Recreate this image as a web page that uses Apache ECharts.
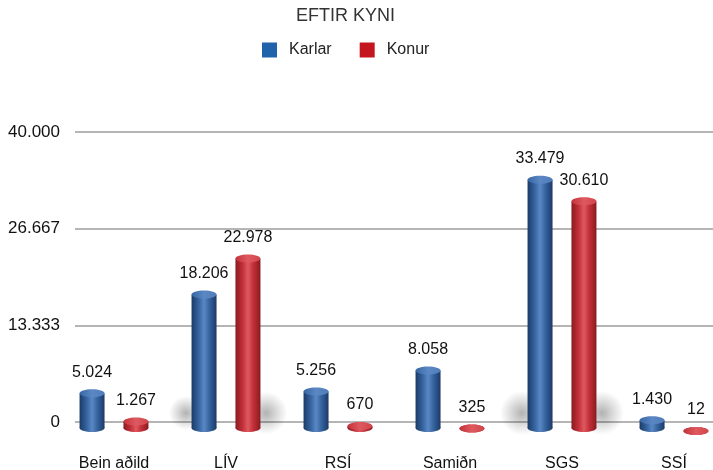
<!DOCTYPE html>
<html>
<head>
<meta charset="utf-8">
<script src="https://cdn.jsdelivr.net/npm/echarts@6/dist/echarts.min.js"></script>
<style>
  html, body { margin: 0; padding: 0; background: #fff; }
  #chart { width: 713px; height: 470px; }
</style>
</head>
<body>
<div id="chart"></div>
<script>
// data
var categories = ['Bein aðild', 'LÍV', 'RSÍ', 'Samiðn', 'SGS', 'SSÍ'];
var karlar = [5024, 18206, 5256, 8058, 33479, 1430];
var konur = [1267, 22978, 670, 325, 30610, 12];
var yTicks = [0, 13333, 26667, 40000];

function fmt(v) {
    // 40000 -> 40.000
    return String(Math.round(v)).replace(/\B(?=(\d{3})+(?!\d))/g, '.');
}

function bodyGrad(c) {
    return new echarts.graphic.LinearGradient(0, 0, 1, 0, [
        {offset: 0, color: c.dark},
        {offset: 0.3, color: c.mid},
        {offset: 0.5, color: c.light},
        {offset: 0.7, color: c.mid},
        {offset: 1, color: c.dark}
    ]);
}

var blue = {dark: '#1c3a66', mid: '#3766a3', light: '#5b88c3', cap: '#4f7dbb'};
var red = {dark: '#8a1a1f', mid: '#c5313a', light: '#de5a60', cap: '#d1444b'};

// draws a cylinder per data item
function cylinder(off, c) {
    return function (params, api) {
        var cat = api.value(0), val = api.value(1);
        var band = api.size([1, 0])[0];
        var p = api.coord([cat, val]);
        var base = api.coord([cat, 0]);
        var cx = p[0] + band * off;
        var w = 25, rx = w / 2, ry = 4;
        var visTop = p[1] + (p[1] - base[1]) * 0.035 + 5;
        var bottom = base[1] + 10;
        var capY = visTop + ry;
        var botY = bottom - ry;
        if (botY < capY) botY = capY;
        var h = bottom - visTop;
        var kids = [];
        if (h > 100) {
            // soft floor shadow behind tall bars
            kids.push({
                type: 'ellipse', z2: -5, silent: true,
                shape: {cx: cx + (off < 0 ? -18 : 18), cy: base[1] - 9, rx: rx + Math.min(h * 0.2, 42), ry: Math.min(h * 0.12, 22)},
                style: {fill: new echarts.graphic.RadialGradient(0.5, 0.5, 0.5, [
                    {offset: 0, color: 'rgba(0,0,0,0.30)'},
                    {offset: 0.55, color: 'rgba(0,0,0,0.13)'},
                    {offset: 1, color: 'rgba(0,0,0,0)'}
                ])}
            });
        }
        kids.push({
            type: 'ellipse',
            shape: {cx: cx, cy: botY, rx: rx, ry: ry},
            style: {fill: bodyGrad(c)}
        });
        kids.push({
            type: 'rect',
            shape: {x: cx - rx, y: capY, width: w, height: botY - capY},
            style: {fill: bodyGrad(c)}
        });
        kids.push({
            type: 'ellipse',
            shape: {cx: cx, cy: capY, rx: rx, ry: ry},
            style: {fill: new echarts.graphic.LinearGradient(0, 0, 1, 0, [
                {offset: 0, color: c.mid},
                {offset: 0.5, color: c.light},
                {offset: 1, color: c.cap}
            ])}
        });
        kids.push({
            type: 'text',
            style: {
                x: cx, y: visTop - 9,
                text: fmt(val),
                align: 'center', verticalAlign: 'bottom',
                fill: '#111', fontSize: 16, fontFamily: 'Liberation Sans, Arial, sans-serif'
            }
        });
        return {type: 'group', children: kids};
    };
}

var myChart = echarts.init(document.getElementById('chart'));

var option = {
    animation: false,
    title: {
        text: 'EFTIR KYNI',
        left: 291, top: 2,
        textStyle: {fontSize: 18, fontWeight: 'normal', color: '#333', fontFamily: 'Liberation Sans, Arial, sans-serif'}
    },
    legend: {
        data: ['Karlar', 'Konur'],
        left: 262, top: 42,
        padding: 0,
        itemWidth: 15, itemHeight: 15,
        itemGap: 28,
        icon: 'rect',
        textStyle: {fontSize: 16, color: '#222', padding: [0, 0, 0, 7], fontFamily: 'Liberation Sans, Arial, sans-serif'}
    },
    grid: [
        {left: 75, right: 0, top: 132, bottom: 48, outerBoundsMode: 'none'},
        {left: 58, width: 672, top: 132, bottom: 48, outerBoundsMode: 'none'}
    ],
    xAxis: [
        {gridIndex: 0, type: 'value', show: false},
        {
            gridIndex: 1, type: 'category', data: categories,
            axisLine: {show: false}, axisTick: {show: false},
            axisLabel: {margin: 34, fontSize: 16, color: '#111', fontFamily: 'Liberation Sans, Arial, sans-serif'}
        }
    ],
    yAxis: [
        {
            gridIndex: 0, type: 'value', min: 0, max: 40000, interval: 40000 / 3,
            axisLine: {show: false}, axisTick: {show: false},
            axisLabel: {
                margin: 15, fontSize: 17, color: '#111', fontFamily: 'Liberation Sans, Arial, sans-serif',
                formatter: function (v) { return fmt(v); }
            },
            splitLine: {lineStyle: {color: '#b5b5b5', width: 2}}
        },
        {gridIndex: 1, type: 'value', min: 0, max: 40000, show: false, splitLine: {show: false}}
    ],
    series: [
        {
            name: 'Karlar', type: 'custom', xAxisIndex: 1, yAxisIndex: 1,
            itemStyle: {color: '#2163ab'},
            renderItem: cylinder(-0.196, blue),
            data: karlar.map(function (v, i) { return [i, v]; })
        },
        {
            name: 'Konur', type: 'custom', xAxisIndex: 1, yAxisIndex: 1,
            itemStyle: {color: '#c4161f'},
            renderItem: cylinder(0.196, red),
            data: konur.map(function (v, i) { return [i, v]; })
        }
    ]
};

myChart.setOption(option);
</script>
</body>
</html>
